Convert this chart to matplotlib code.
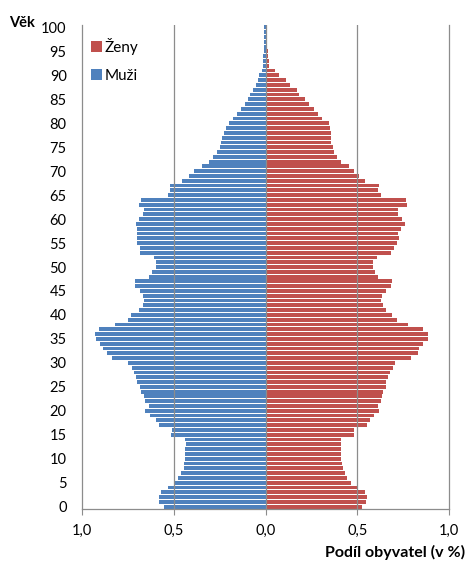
import matplotlib.pyplot as plt
import numpy as np

plt.rcParams['font.family'] = ['Lato', 'DejaVu Sans']

# vek 0..100, podil obyvatel v %
vek = list(range(0, 101))
muzi = [0.554, 0.583, 0.583, 0.569, 0.531, 0.497, 0.475, 0.460, 0.446, 0.446,
        0.437, 0.437, 0.437, 0.431, 0.437, 0.517, 0.510, 0.582, 0.599, 0.627,
        0.656, 0.634, 0.656, 0.664, 0.678, 0.685, 0.698, 0.707, 0.714, 0.728,
        0.750, 0.837, 0.866, 0.888, 0.902, 0.924, 0.931, 0.909, 0.822, 0.750,
        0.735, 0.692, 0.670, 0.663, 0.670, 0.685, 0.713, 0.713, 0.634, 0.620,
        0.598, 0.598, 0.605, 0.686, 0.685, 0.699, 0.699, 0.699, 0.699, 0.707,
        0.692, 0.670, 0.663, 0.692, 0.677, 0.533, 0.518, 0.518, 0.453, 0.416,
        0.388, 0.344, 0.308, 0.286, 0.264, 0.250, 0.243, 0.236, 0.228, 0.214,
        0.199, 0.177, 0.155, 0.134, 0.112, 0.098, 0.083, 0.069, 0.054, 0.040,
        0.033, 0.018, 0.011, 0.011, 0.011, 0.010, 0.010, 0.009, 0.009, 0.008,
        0.008]
zeny = [0.524, 0.546, 0.555, 0.541, 0.505, 0.467, 0.446, 0.432, 0.424, 0.417,
        0.409, 0.409, 0.409, 0.409, 0.409, 0.482, 0.482, 0.554, 0.569, 0.591,
        0.620, 0.612, 0.630, 0.634, 0.641, 0.655, 0.655, 0.668, 0.677, 0.694,
        0.708, 0.794, 0.830, 0.838, 0.860, 0.888, 0.888, 0.860, 0.779, 0.714,
        0.692, 0.656, 0.641, 0.627, 0.634, 0.656, 0.685, 0.692, 0.612, 0.598,
        0.584, 0.584, 0.605, 0.685, 0.699, 0.714, 0.728, 0.721, 0.736, 0.758,
        0.743, 0.721, 0.721, 0.772, 0.765, 0.627, 0.613, 0.620, 0.540, 0.511,
        0.482, 0.453, 0.410, 0.388, 0.373, 0.366, 0.359, 0.359, 0.359, 0.351,
        0.344, 0.308, 0.286, 0.264, 0.235, 0.214, 0.185, 0.170, 0.134, 0.112,
        0.076, 0.054, 0.018, 0.018, 0.013, 0.013, 0.008, 0.005, 0.004, 0.003,
        0.002]
x_ticks = [-1.0, -0.5, 0.0, 0.5, 1.0]
x_labels = ['1,0', '0,5', '0,0', '0,5', '1,0']
y_ticks = list(range(0, 101, 5))

fig = plt.figure(figsize=(4.7, 5.61), dpi=100)
ax = fig.add_axes([0.1745, 0.0927, 0.7808, 0.8627])

ax.barh(vek, -np.array(muzi), height=0.8, color='#4F81BD', label='Muži', zorder=2)
ax.barh(vek, zeny, height=0.8, color='#C0504D', label='Ženy', zorder=2)

for xv in [-0.5, 0.0, 0.5]:
    ax.axvline(xv, color='#8c8c8c', lw=0.9, zorder=3)

ax.set_xlim(-1, 1)
ax.set_ylim(-0.5, 100.5)
ax.set_xticks(x_ticks)
ax.set_xticklabels(x_labels, fontsize=10.5)
ax.set_yticks(y_ticks)
ax.set_yticklabels([str(v) for v in y_ticks], fontsize=10.5)
ax.tick_params(axis='y', length=0, pad=11)
ax.tick_params(axis='x', length=4, color='#8c8c8c', pad=7)

for s in ['left', 'right', 'bottom']:
    ax.spines[s].set_color('#8c8c8c')
    ax.spines[s].set_linewidth(0.9)
ax.spines['top'].set_visible(False)

h, l = ax.get_legend_handles_labels()
ax.legend(h[::-1], l[::-1], loc='upper left', bbox_to_anchor=(0.194, 0.933),
          bbox_transform=fig.transFigure, frameon=False, fontsize=11,
          handlelength=0.7, handleheight=0.7, handletextpad=0.15,
          labelspacing=0.95, borderpad=0, borderaxespad=0)

fig.text(0.019, 0.959, 'Věk', fontsize=10.5, fontweight='bold', va='center')
fig.text(0.692, 0.015, 'Podíl obyvatel (v %)', fontsize=11.5,
         fontweight='bold', va='center')

fig.savefig('out.png', dpi=100)
